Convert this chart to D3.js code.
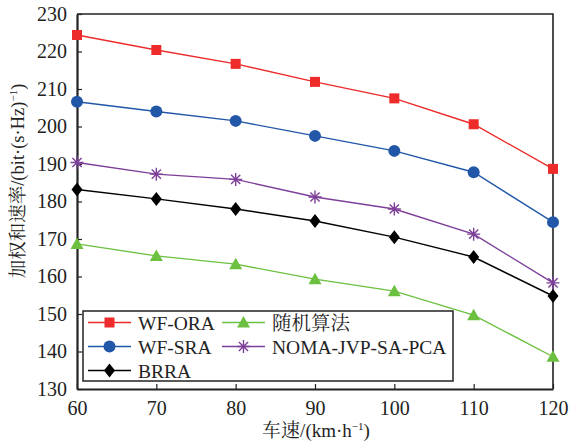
<!DOCTYPE html>
<html>
<head>
<meta charset="utf-8">
<script src="https://cdn.jsdelivr.net/npm/d3@7"></script>
<style>
  body { margin: 0; background: #fff; }
</style>
</head>
<body>
<div id="chart"></div>
<script>
// data
var speeds = [60, 70, 80, 90, 100, 110, 120];
var wfOra = [224.4, 220.4, 216.7, 211.9, 207.5, 200.6, 188.7];
var wfSra = [206.6, 204.0, 201.5, 197.5, 193.5, 187.8, 174.5];
var brra = [183.2, 180.7, 178.0, 174.8, 170.5, 165.2, 154.8];
var randomAlg = [168.7, 165.5, 163.3, 159.3, 156.1, 149.7, 138.6];
var nomaJvp = [190.4, 187.3, 185.9, 181.2, 178.0, 171.3, 158.3];
var yTicks = [130, 140, 150, 160, 170, 180, 190, 200, 210, 220, 230];

var series = [
  { name: "WF-ORA", values: wfOra, color: "#ee2b2b", marker: "square" },
  { name: "WF-SRA", values: wfSra, color: "#2257a8", marker: "circle" },
  { name: "BRRA", values: brra, color: "#000000", marker: "diamond" },
  { name: "随机算法", values: randomAlg, color: "#6cc040", marker: "triangle" },
  { name: "NOMA-JVP-SA-PCA", values: nomaJvp, color: "#7d3f98", marker: "star" }
];

var FONT = "'Liberation Serif', 'Times New Roman', 'Noto Serif CJK SC', serif";

var margin = { top: 14, right: 18, bottom: 56, left: 77 },
    width = 571 - margin.left - margin.right,
    height = 445 - margin.top - margin.bottom;

var svg = d3.select("#chart")
    .append("svg")
    .attr("width", 571)
    .attr("height", 445)
    .style("font-family", FONT)
    .append("g")
    .attr("transform", "translate(" + margin.left + "," + margin.top + ")");

var x = d3.scaleLinear().domain([60, 120]).range([0, width]);
var y = d3.scaleLinear().domain([130, 230]).range([height, 0]);

// frame top/right
svg.append("path")
    .attr("d", "M0,0H" + width + "V" + height)
    .attr("fill", "none")
    .attr("stroke", "#222")
    .attr("stroke-width", 1.6);

// axes, ticks pointing inward
var xAxis = svg.append("g")
    .attr("transform", "translate(0," + height + ")")
    .call(d3.axisBottom(x).tickValues(speeds).tickSizeInner(-5).tickSizeOuter(0).tickPadding(12));
var yAxis = svg.append("g")
    .call(d3.axisLeft(y).tickValues(yTicks).tickSizeInner(-5).tickSizeOuter(0).tickPadding(10));

[xAxis, yAxis].forEach(function (a) {
  a.attr("font-family", FONT).attr("font-size", 20);
  a.select(".domain").attr("stroke", "#222").attr("stroke-width", 2.2);
  a.selectAll(".tick line").attr("stroke", "#222").attr("stroke-width", 1.2);
  a.selectAll(".tick text")
      .attr("fill", "#222")
      .style("font-family", FONT)
      .style("font-size", "20px");
});

// marker drawing
function drawMarker(g, type, color) {
  if (type === "square") {
    g.append("rect").attr("x", -5).attr("y", -5).attr("width", 10).attr("height", 10).attr("fill", color);
  } else if (type === "circle") {
    g.append("circle").attr("r", 6).attr("fill", color);
  } else if (type === "diamond") {
    g.append("path").attr("d", "M0,-7L5.5,0L0,7L-5.5,0Z").attr("fill", color);
  } else if (type === "triangle") {
    g.append("path").attr("d", "M0,-6.5L6.5,5L-6.5,5Z").attr("fill", color);
  } else if (type === "star") {
    var d = "";
    for (var i = 0; i < 4; i++) {
      var a = i * Math.PI / 4;
      d += "M" + (-6.5 * Math.sin(a)) + "," + (-6.5 * Math.cos(a)) + "L" + (6.5 * Math.sin(a)) + "," + (6.5 * Math.cos(a));
    }
    g.append("path").attr("d", d).attr("stroke", color).attr("stroke-width", 1.4).attr("fill", "none");
  }
}

var line = d3.line()
    .x(function (d, i) { return x(speeds[i]); })
    .y(function (d) { return y(d); });

series.forEach(function (s) {
  svg.append("path")
      .datum(s.values)
      .attr("fill", "none")
      .attr("stroke", s.color)
      .attr("stroke-width", 1.4)
      .attr("d", line);
  s.values.forEach(function (v, i) {
    var g = svg.append("g").attr("transform", "translate(" + x(speeds[i]) + "," + y(v) + ")");
    drawMarker(g, s.marker, s.color);
  });
});

// legend
var legend = svg.append("g").attr("transform", "translate(" + (83 - margin.left) + "," + (311 - margin.top) + ")");
legend.append("rect")
    .attr("width", 370).attr("height", 70)
    .attr("fill", "#fff").attr("stroke", "#222").attr("stroke-width", 1.5);

var legendPos = [
  { col: 0, row: 0 }, { col: 0, row: 1 }, { col: 0, row: 2 },
  { col: 1, row: 0 }, { col: 1, row: 1 }
];
series.forEach(function (s, i) {
  var p = legendPos[i];
  var lx = p.col === 0 ? 5 : 139;
  var ly = 11.5 + p.row * 24;
  legend.append("line")
      .attr("x1", lx).attr("x2", lx + 43).attr("y1", ly).attr("y2", ly)
      .attr("stroke", s.color).attr("stroke-width", 1.4);
  var g = legend.append("g").attr("transform", "translate(" + (lx + 21.5) + "," + ly + ")");
  drawMarker(g, s.marker, s.color);
  legend.append("text")
      .attr("x", lx + 50).attr("y", ly + 7)
      .attr("fill", "#222")
      .style("font-family", FONT)
      .style("font-size", "19.5px")
      .text(s.name);
});

// axis titles
svg.append("text")
    .attr("x", width / 2 + 1)
    .attr("y", height + 48)
    .attr("text-anchor", "middle")
    .attr("fill", "#222")
    .style("font-family", FONT)
    .style("font-size", "19px")
    .html("车速/(km·h<tspan dy='-7' font-size='11'>−1</tspan><tspan dy='7'>)</tspan>");

svg.append("text")
    .attr("transform", "translate(" + (24 - margin.left) + "," + (181 - margin.top) + ") rotate(-90)")
    .attr("text-anchor", "middle")
    .attr("fill", "#222")
    .style("font-family", FONT)
    .style("font-size", "18.5px")
    .html("加权和速率/(bit·(s·Hz)<tspan dy='-7' font-size='11'>−1</tspan><tspan dy='7'>)</tspan>");
</script>
</body>
</html>
